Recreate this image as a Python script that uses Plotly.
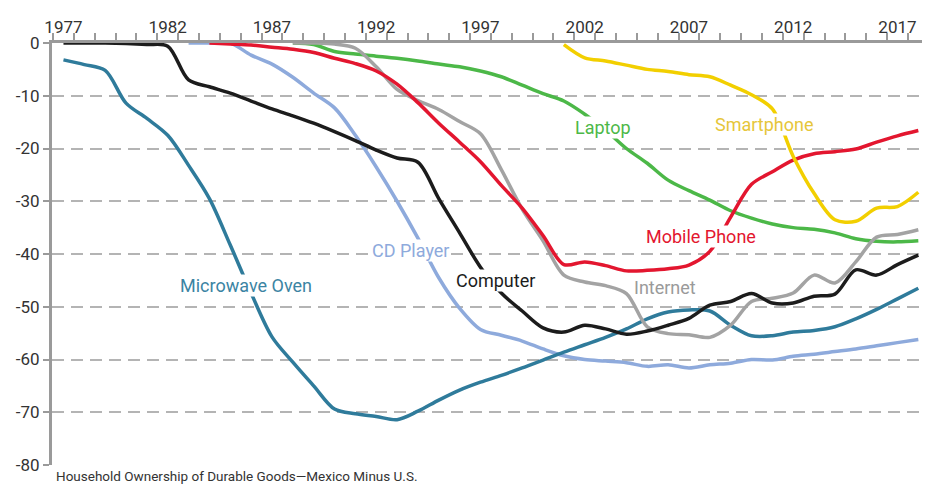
"""
Household ownership of durable goods, Mexico minus U.S. (percentage points)
"""

import plotly.graph_objects as go

years = list(range(1977, 2019))

microwave = [-3.2, -4.1, -5.2, -11.4, -14.3, -17.5, -23.2, -29.5, -38.3, -47.4,
             -55.7, -60.5, -65.0, -69.4, -70.3, -70.8, -71.4, -69.8, -67.7, -65.8,
             -64.3, -63.0, -61.6, -60.1, -58.6, -57.2, -55.8, -54.2, -52.3, -51.0,
             -50.6, -50.8, -53.5, -55.5, -55.5, -54.8, -54.5, -53.8, -52.3, -50.5,
             -48.5, -46.5]

cd_player = [None, None, None, None, None, None, 0.0, 0.0, 0.0, -2.3,
             -4.0, -6.5, -9.5, -12.3, -17.5, -23.5, -30.0, -37.0, -44.5, -50.3,
             -54.3, -55.4, -56.5, -58.0, -59.3, -60.0, -60.3, -60.6, -61.3, -61.0,
             -61.6, -61.0, -60.7, -60.0, -60.1, -59.4, -59.0, -58.5, -58.0, -57.4,
             -56.8, -56.2]

computer = [0.0, 0.0, 0.0, -0.1, -0.3, -0.6, -7.0, -8.3, -9.5, -11.0,
            -12.5, -13.8, -15.2, -16.8, -18.5, -20.3, -21.8, -22.6, -29.5, -36.0,
            -42.5, -47.4, -50.8, -54.0, -54.8, -53.5, -54.2, -55.2, -54.6, -53.5,
            -52.2, -49.7, -49.0, -47.5, -49.3, -49.3, -48.0, -47.6, -43.0, -44.0,
            -42.0, -40.2]

mobile_phone = [None, None, None, None, None, None, None, 0.0, -0.2, -0.4,
                -0.8, -1.2, -1.8, -2.9, -3.9, -5.3, -7.8, -11.3, -15.2, -18.8,
                -22.5, -27.0, -31.3, -36.5, -42.0, -41.5, -42.2, -43.2, -43.1, -42.8,
                -42.1, -39.5, -33.0, -26.8, -24.4, -22.2, -21.0, -20.6, -20.1, -18.8,
                -17.6, -16.6]

internet = [None, None, None, None, None, None, None, None, None, None,
            None, 0.0, 0.0, -0.2, -1.0, -4.5, -8.8, -10.9, -12.6, -14.9,
            -17.2, -24.0, -31.5, -37.5, -44.0, -45.3, -46.0, -47.5, -53.8, -55.1,
            -55.3, -55.8, -53.5, -49.0, -48.4, -47.4, -44.0, -45.5, -41.5, -36.8,
            -36.3, -35.4]

laptop = [None, None, None, None, None, None, None, None, None, None,
          None, 0.0, -0.3, -1.6, -2.1, -2.5, -2.9, -3.4, -4.0, -4.5,
          -5.3, -6.4, -8.0, -9.6, -11.0, -13.5, -16.5, -20.0, -22.8, -26.0,
          -28.0, -29.8, -31.8, -33.2, -34.3, -35.0, -35.3, -36.0, -37.1, -37.6,
          -37.7, -37.5]

smartphone = [None] * 24 + [-0.3, -2.8, -3.4, -4.2, -5.0, -5.4,
                            -6.0, -6.4, -8.0, -9.8, -12.5, -21.5, -28.5, -33.5, -33.8, -31.3,
                            -31.0, -28.3]

year_labels = [1977, 1982, 1987, 1992, 1997, 2002, 2007, 2012, 2017]
y_ticks = [0, -10, -20, -30, -40, -50, -60, -70, -80]

FONT = "Roboto, Liberation Sans, sans-serif"

# name, values, line colour, label colour, label position (year, value)
series = [
    ("Laptop", laptop, "#4cb848", "#4cb848", 2002.9, -16.0),
    ("CD Player", cd_player, "#8eaadc", "#8eaadc", 1993.62, -39.3),
    ("Microwave Oven", microwave, "#2f7b9b", "#3b84a3", 1985.75, -45.9),
    ("Internet", internet, "#a3a3a3", "#9a9a9a", 2005.85, -46.4),
    ("Computer", computer, "#1c1c1c", "#1c1c1c", 1997.7, -45.0),
    ("Mobile Phone", mobile_phone, "#e3162f", "#e3162f", 2007.6, -36.7),
    ("Smartphone", smartphone, "#f2cf00", "#e6c63a", 2010.62, -15.4),
]

fig = go.Figure()

for name, values, color, label_color, lx, ly in series:
    fig.add_trace(go.Scatter(
        x=years, y=values, name=name, mode="lines",
        line=dict(color=color, width=3.5, shape="spline", smoothing=0.9),
        hoverinfo="skip",
    ))
    fig.add_annotation(
        x=lx, y=ly, text=name, showarrow=False,
        font=dict(family=FONT, size=18, color=label_color),
        bgcolor="white", borderpad=0,
    )

fig.add_annotation(
    xref="paper", yref="paper", x=0, y=0, xanchor="left", yanchor="top",
    xshift=2, yshift=-1, showarrow=False,
    text="Household Ownership of Durable Goods\u2014Mexico Minus U.S.",
    font=dict(family=FONT, size=13.5, color="#333333"),
)

# the page body has an 8px margin, so the figure is 8px smaller on each side
fig.update_layout(
    width=922, height=477,
    margin=dict(l=44, r=0, t=35, b=20),
    paper_bgcolor="white", plot_bgcolor="white",
    showlegend=False,
    font=dict(family=FONT, size=17, color="#333333"),
)

fig.update_xaxes(
    side="top", range=[1976.45, 2018.56], automargin=False,
    tickvals=year_labels, ticktext=[str(y) for y in year_labels],
    ticks="outside", ticklen=3, tickcolor="rgba(0,0,0,0)",
    ticklabelstandoff=-3,
    tickfont=dict(family=FONT, size=17, color="#333333"),
    minor=dict(ticks="outside", tick0=1976.5, dtick=1, ticklen=7,
               tickcolor="#9a9a9a", tickwidth=1.5, showgrid=False),
    showline=True, linecolor="#9a9a9a", linewidth=3,
    showgrid=False, zeroline=False,
)

fig.update_yaxes(
    range=[-80, 0], automargin=False,
    tickvals=y_ticks, ticktext=[str(v) for v in y_ticks],
    ticks="outside", ticklen=6, tickcolor="#9a9a9a", tickwidth=2,
    tickfont=dict(family=FONT, size=17, color="#333333"),
    showline=True, linecolor="#9a9a9a", linewidth=3,
    showgrid=True, gridcolor="#b4b4b4", gridwidth=1.5, griddash="12px,7px",
    zeroline=False,
)

fig.write_html("out.html")
